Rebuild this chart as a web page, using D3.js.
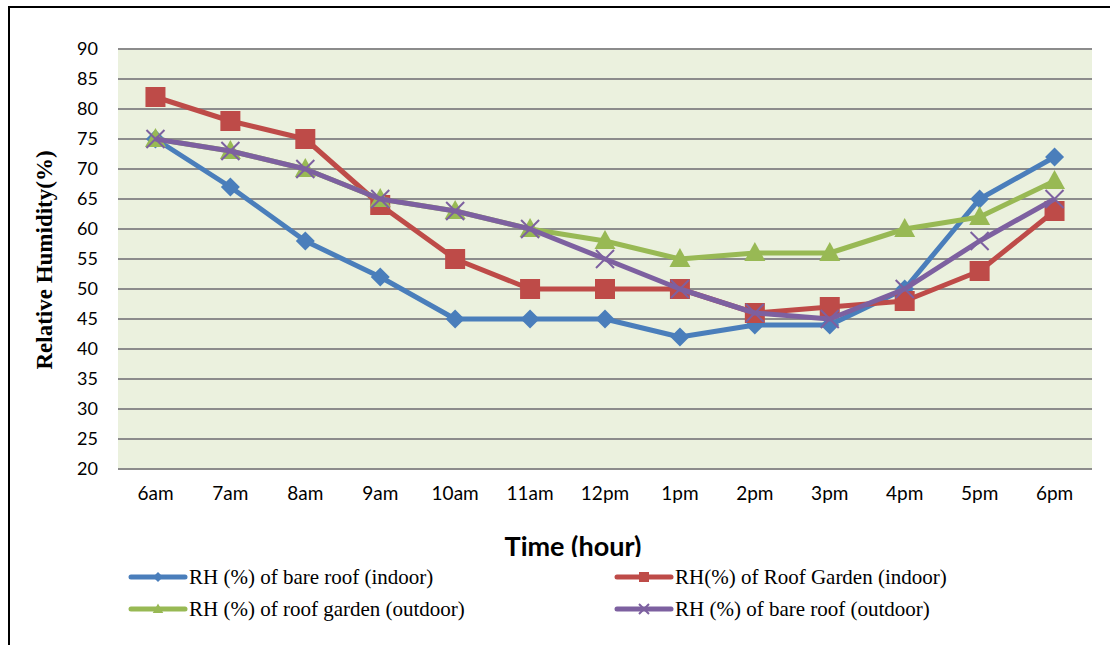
<!DOCTYPE html>
<html>
<head>
<meta charset="utf-8">
<script src="https://cdn.jsdelivr.net/npm/d3@7"></script>
<style>
  html, body { margin: 0; padding: 0; background: #fff; }
  svg { display: block; }
</style>
</head>
<body>
<svg id="chart" width="1110" height="645"></svg>
<script>
// Hourly relative humidity readings, 6am to 6pm
const hours = ["6am", "7am", "8am", "9am", "10am", "11am", "12pm", "1pm", "2pm", "3pm", "4pm", "5pm", "6pm"];
const bareRoofIndoor    = [75, 67, 58, 52, 45, 45, 45, 42, 44, 44, 50, 65, 72];
const roofGardenIndoor  = [82, 78, 75, 64, 55, 50, 50, 50, 46, 47, 48, 53, 63];
const roofGardenOutdoor = [75, 73, 70, 65, 63, 60, 58, 55, 56, 56, 60, 62, 68];
const bareRoofOutdoor   = [75, 73, 70, 65, 63, 60, 55, 50, 46, 45, 50, 58, 65];
const yTicks = [20, 25, 30, 35, 40, 45, 50, 55, 60, 65, 70, 75, 80, 85, 90];
const seriesNames = [
  "RH (%) of bare roof (indoor)",
  "RH(%) of Roof Garden (indoor)",
  "RH (%) of roof garden (outdoor)",
  "RH (%) of bare roof (outdoor)"
];

const series = [
  { name: seriesNames[0], values: bareRoofIndoor,    color: "#4A7EBB", marker: "diamond" },
  { name: seriesNames[1], values: roofGardenIndoor,  color: "#BE4B48", marker: "square" },
  { name: seriesNames[2], values: roofGardenOutdoor, color: "#98B954", marker: "triangle" },
  { name: seriesNames[3], values: bareRoofOutdoor,   color: "#7D60A0", marker: "cross" }
];

const svg = d3.select("#chart");
const plot = { left: 118, right: 1092, top: 49, bottom: 469 };

const x = d3.scaleBand().domain(hours).range([plot.left, plot.right]);
const y = d3.scaleLinear().domain([20, 90]).range([plot.bottom, plot.top]);
const cx = h => x(h) + x.bandwidth() / 2;

// Outer chart frame (left and top edges visible)
svg.append("path")
  .attr("d", "M9,645 L9,7 L1110,7")
  .attr("fill", "none").attr("stroke", "#000").attr("stroke-width", 2);

// Plot background
svg.append("rect")
  .attr("x", plot.left).attr("y", plot.top)
  .attr("width", plot.right - plot.left).attr("height", plot.bottom - plot.top)
  .attr("fill", "#EBF1DE");

// Horizontal gridlines
svg.append("g").selectAll("line").data(yTicks).join("line")
  .attr("x1", plot.left).attr("x2", plot.right)
  .attr("y1", d => y(d)).attr("y2", d => y(d))
  .attr("stroke", "#8C8C8C").attr("stroke-width", 2);

// Y axis labels
const yAxis = svg.append("g")
  .attr("transform", `translate(${plot.left},0)`)
  .call(d3.axisLeft(y).tickValues(yTicks).tickSize(0).tickPadding(20));
yAxis.select(".domain").remove();
yAxis.selectAll("text")
  .attr("font-family", "Lato, 'Open Sans', sans-serif")
  .attr("font-size", 18).attr("fill", "#000");

// X axis labels
const xAxis = svg.append("g")
  .attr("transform", `translate(0,${plot.bottom})`)
  .call(d3.axisBottom(x).tickSize(0).tickPadding(18));
xAxis.select(".domain").remove();
xAxis.selectAll("text")
  .attr("font-family", "Lato, 'Open Sans', sans-serif")
  .attr("font-size", 19).attr("fill", "#000");

// Axis titles
svg.append("text")
  .attr("transform", "translate(52,260) rotate(-90)")
  .attr("text-anchor", "middle")
  .attr("font-family", "'Liberation Serif', 'Times New Roman', serif")
  .attr("font-weight", "bold").attr("font-size", 23)
  .text("Relative Humidity(%)");

svg.append("clipPath").attr("id", "titleClip")
  .append("rect").attr("x", 0).attr("y", 500).attr("width", 1110).attr("height", 57);
svg.append("text")
  .attr("clip-path", "url(#titleClip)")
  .attr("x", 573).attr("y", 556)
  .attr("text-anchor", "middle")
  .attr("font-family", "Lato, 'Open Sans', sans-serif")
  .attr("font-weight", "bold").attr("font-size", 27)
  .text("Time (hour)");

// Marker drawing
function drawMarker(g, type, color, size) {
  const s = size;
  if (type === "diamond") {
    g.append("path").attr("d", `M0,${-s} L${s},0 L0,${s} L${-s},0 Z`).attr("fill", color);
  } else if (type === "square") {
    g.append("rect").attr("x", -s).attr("y", -s).attr("width", 2 * s).attr("height", 2 * s).attr("fill", color);
  } else if (type === "triangle") {
    g.append("path").attr("d", `M0,${-s * 1.1} L${s * 1.05},${s * 0.8} L${-s * 1.05},${s * 0.8} Z`).attr("fill", color);
  } else if (type === "cross") {
    g.append("path").attr("d", `M${-s},${-s} L${s},${s} M${-s},${s} L${s},${-s}`)
      .attr("stroke", color).attr("stroke-width", 2).attr("fill", "none");
  }
}

const line = d3.line().x((d, i) => cx(hours[i])).y(d => y(d));
const markerSize = { diamond: 9.5, square: 10, triangle: 10, cross: 9 };

series.forEach(s => {
  const g = svg.append("g");
  g.append("path").datum(s.values)
    .attr("d", line)
    .attr("fill", "none").attr("stroke", s.color)
    .attr("stroke-width", 5).attr("stroke-linejoin", "round");
  s.values.forEach((v, i) => {
    const mg = g.append("g").attr("transform", `translate(${cx(hours[i])},${y(v)})`);
    drawMarker(mg, s.marker, s.color, markerSize[s.marker]);
  });
});

// Legend
const legendPos = [
  { x: 131, y: 577 }, { x: 617, y: 577 },
  { x: 131, y: 609 }, { x: 617, y: 609 }
];
series.forEach((s, i) => {
  const p = legendPos[i];
  const g = svg.append("g").attr("transform", `translate(${p.x},${p.y})`);
  g.append("line").attr("x1", 0).attr("x2", 54).attr("y1", 0).attr("y2", 0)
    .attr("stroke", s.color).attr("stroke-width", 5).attr("stroke-linecap", "round");
  const mg = g.append("g").attr("transform", "translate(27,0)");
  drawMarker(mg, s.marker, s.color, 5);
  g.append("text").attr("x", 58).attr("y", 7)
    .attr("font-family", "'Liberation Serif', 'Times New Roman', serif")
    .attr("font-size", 21).attr("fill", "#000")
    .text(s.name);
});
</script>
</body>
</html>
